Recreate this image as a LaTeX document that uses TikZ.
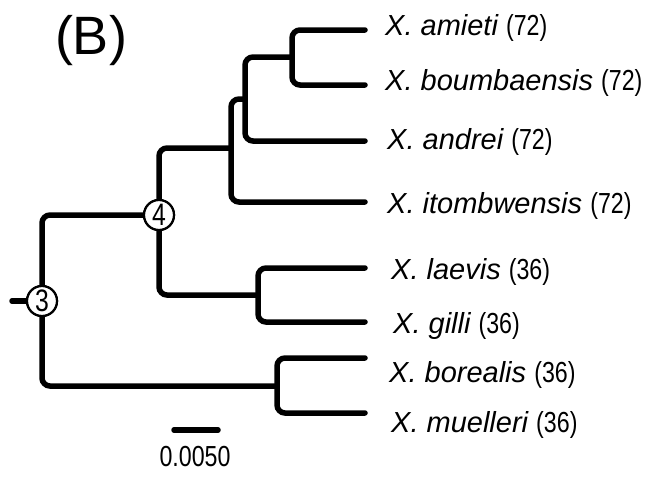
\documentclass[tikz,border=0pt]{standalone}
\usepackage{fontspec}
\setmainfont{Liberation Sans}
\newfontfamily\taxonfont{Liberation Sans}
\newfontfamily\countfont[FakeStretch=0.8]{Liberation Sans}
\newcommand\taxon[2]{{\taxonfont\itshape X. #1} {\countfont(#2)}}
\begin{document}
\begin{tikzpicture}[x=1pt,y=-1pt,
  branch/.style={line width=5.5pt, rounded corners=8pt, line cap=round},
  split/.style={circle, draw, line width=2.2pt, fill=white, minimum size=30pt,
    inner sep=0pt, font=\fontsize{31}{31}\selectfont\countfont},
  tiplabel/.style={anchor=base west, inner sep=0pt, font=\fontsize{29}{31}\selectfont}]
\useasboundingbox (0,0) rectangle (655,482);

% panel letter
\node[anchor=base, inner sep=0pt, font=\fontsize{54}{54}\selectfont] (panel) at (91,54) {(B)};

% tip ends
\coordinate (amieti) at (365,30);
\coordinate (boumb) at (365,85);
\coordinate (andrei) at (365,141);
\coordinate (itomb) at (365,202);
\coordinate (laevis) at (365,268);
\coordinate (gilli) at (365,322);
\coordinate (boreal) at (365,358);
\coordinate (muell) at (365,413);

% internal nodes
\coordinate (root) at (12,301);
\node[split] (n3) at (42,301) {3};
\node[split] (n4) at (159,215) {4};
\coordinate (nAB) at (292,57);
\coordinate (nABA) at (245,99);
\coordinate (nUp) at (231,148);
\coordinate (nLG) at (258,295);
\coordinate (nBM) at (277,386);

% branches
\draw[branch] (nAB) |- (amieti);
\draw[branch] (nAB) |- (boumb);
\draw[branch] (nABA) |- (nAB);
\draw[branch] (nABA) |- (andrei);
\draw[branch] (nUp) |- (nABA);
\draw[branch] (nUp) |- (itomb);
\draw[branch] (nLG) |- (laevis);
\draw[branch] (nLG) |- (gilli);
\draw[branch] (nBM) |- (boreal);
\draw[branch] (nBM) |- (muell);
\draw[branch] (n4.north) |- (nUp);
\draw[branch] (n4.south) |- (nLG);
\draw[branch] (n3.north) |- (n4.west);
\draw[branch] (n3.south) |- (nBM);
\draw[branch] (root) -- (n3.west);

% split markers drawn over the branches
\node[split] at (n3) {3};
\node[split] at (n4) {4};

% taxon labels
\node[tiplabel] (lAmieti) at (385,35) {\taxon{amieti}{72}};
\node[tiplabel] (lBoumb) at (385,90) {\taxon{boumbaensis}{72}};
\node[tiplabel] (lAndrei) at (387,149) {\taxon{andrei}{72}};
\node[tiplabel] (lItomb) at (387,213) {\taxon{itombwensis}{72}};
\node[tiplabel] (lLaevis) at (391,279) {\taxon{laevis}{36}};
\node[tiplabel] (lGilli) at (393,333) {\taxon{gilli}{36}};
\node[tiplabel] (lBoreal) at (389,382) {\taxon{borealis}{36}};
\node[tiplabel] (lMuell) at (391,432) {\taxon{muelleri}{36}};

% scale bar
\coordinate (barL) at (174,430);
\coordinate (barR) at (218,430);
\draw[line width=5.5pt, line cap=round] (barL) -- (barR);
\node[anchor=base, inner sep=0pt, font=\fontsize{29}{31}\selectfont\countfont] (barText) at (195,466) {0.0050};
\end{tikzpicture}
\end{document}
